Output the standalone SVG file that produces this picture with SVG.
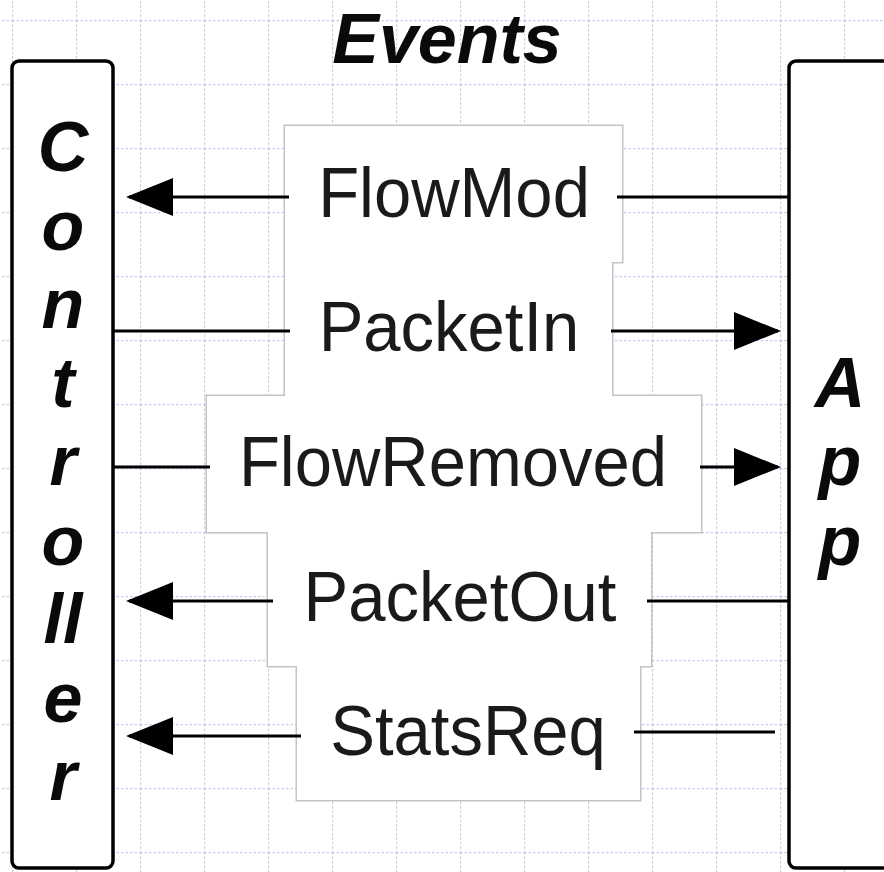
<svg xmlns="http://www.w3.org/2000/svg" width="884" height="872" viewBox="0 0 884 872">
  <defs>
    <!-- dotted layout grid, 64px cells -->
    <pattern id="grid" x="12" y="20" width="64" height="64" patternUnits="userSpaceOnUse">
      <path d="M0,0.5 H64 M0.5,0 V64" fill="none" stroke="#c3ccf4" stroke-width="1.3" stroke-dasharray="2.5 2"/>
    </pattern>
    <!-- filled arrowhead, tip 3px beyond the line end -->
    <marker id="arrow" markerUnits="userSpaceOnUse" markerWidth="48" markerHeight="40" viewBox="0 0 48 40" refX="44" refY="20" orient="auto">
      <path d="M0,1 L47,20 L0,39 Z" fill="#000"/>
    </marker>
    <style>
      .lane { fill: #fff; stroke: #000; stroke-width: 3.5; }
      .lane-text { font-family: "Liberation Sans", Arial, sans-serif; font-weight: bold; font-style: italic; font-size: 70px; fill: #0a0a0a; text-anchor: middle; }
      .box-edge { fill: none; stroke: #c4c4c4; stroke-width: 3; }
      .box-fill { fill: #fff; stroke: none; }
      .label { font-family: "Liberation Sans", Arial, sans-serif; font-size: 67px; fill: #1a1a1a; text-anchor: middle; }
      .wire { fill: none; stroke: #000; stroke-width: 3; }
      .wire.arrowed { marker-end: url(#arrow); }
    </style>
  </defs>

  <rect width="884" height="872" fill="#fff"/>
  <rect width="884" height="872" fill="url(#grid)"/>

  <!-- title -->
  <text id="title" class="lane-text" x="447" y="63">Events</text>

  <!-- stacked event label boxes: outlines first, fills on top so only the outer contour shows -->
  <g id="event-boxes">
    <rect class="box-edge" x="285" y="126" width="337" height="136"/>
    <rect class="box-edge" x="285" y="262" width="327" height="134"/>
    <rect class="box-edge" x="207" y="396" width="494" height="136"/>
    <rect class="box-edge" x="268" y="532" width="383" height="134"/>
    <rect class="box-edge" x="297" y="666" width="343" height="134"/>
    <rect class="box-fill" x="285" y="126" width="337" height="136"/>
    <rect class="box-fill" x="285" y="262" width="327" height="134"/>
    <rect class="box-fill" x="207" y="396" width="494" height="136"/>
    <rect class="box-fill" x="268" y="532" width="383" height="134"/>
    <rect class="box-fill" x="297" y="666" width="343" height="134"/>
  </g>

  <g id="controller">
    <rect class="lane" x="12" y="61" width="101" height="807" rx="7"/>
    <text class="lane-text" x="63" y="171">C</text>
    <text class="lane-text" x="63" y="250">o</text>
    <text class="lane-text" x="63" y="328">n</text>
    <text class="lane-text" x="63" y="407">t</text>
    <text class="lane-text" x="63" y="485">r</text>
    <text class="lane-text" x="63" y="565">o</text>
    <text class="lane-text" x="63" y="643">ll</text>
    <text class="lane-text" x="63" y="722">e</text>
    <text class="lane-text" x="63" y="800">r</text>
  </g>

  <g id="app">
    <rect class="lane" x="789" y="61" width="130" height="807" rx="7"/>
    <text class="lane-text" x="840" y="407">A</text>
    <text class="lane-text" x="840" y="485">p</text>
    <text class="lane-text" x="840" y="565">p</text>
  </g>

  <g id="connectors">
    <!-- FlowMod: App to Controller -->
    <line class="wire" x1="617" y1="197" x2="790" y2="197"/>
    <line class="wire arrowed" x1="289" y1="197" x2="129" y2="197"/>
    <!-- PacketIn: Controller to App -->
    <line class="wire" x1="113" y1="331" x2="290" y2="331"/>
    <line class="wire arrowed" x1="611" y1="331" x2="778" y2="331"/>
    <!-- FlowRemoved: Controller to App -->
    <line class="wire" x1="113" y1="467" x2="210" y2="467"/>
    <line class="wire arrowed" x1="700" y1="467" x2="778" y2="467"/>
    <!-- PacketOut: App to Controller -->
    <line class="wire" x1="647" y1="601" x2="789" y2="601"/>
    <line class="wire arrowed" x1="273" y1="601" x2="129" y2="601"/>
    <!-- StatsReq: App to Controller -->
    <line class="wire" x1="634" y1="732" x2="775" y2="732"/>
    <line class="wire arrowed" x1="301" y1="736" x2="129" y2="736"/>
  </g>

  <!-- event names, slightly tall glyphs -->
  <g id="event-labels">
    <text class="label" transform="translate(454 217) scale(1 1.05)">FlowMod</text>
    <text class="label" transform="translate(449 351) scale(1 1.05)">PacketIn</text>
    <text class="label" transform="translate(453 486) scale(1 1.05)">FlowRemoved</text>
    <text class="label" transform="translate(460 621) scale(1 1.05)">PacketOut</text>
    <text class="label" transform="translate(468 755) scale(1 1.05)">StatsReq</text>
  </g>
</svg>
